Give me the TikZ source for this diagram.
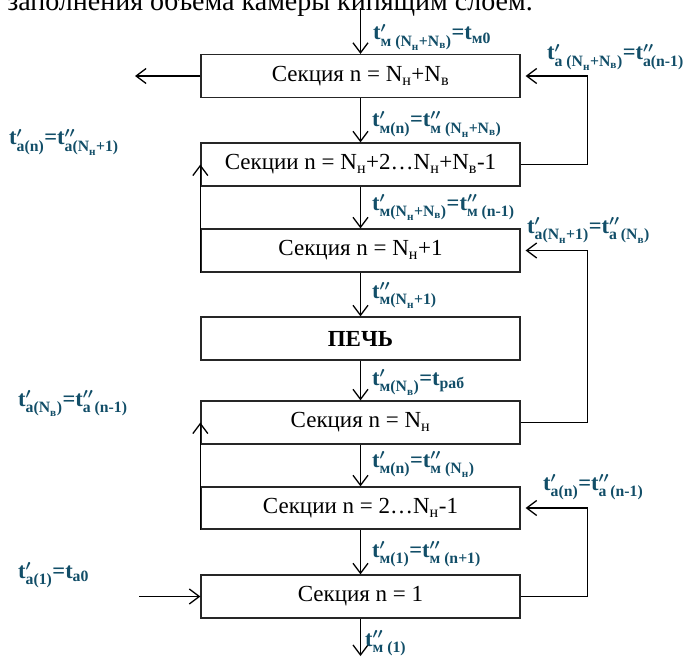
\documentclass[tikz,border=0pt]{standalone}
\usepackage{fontspec}
\usepackage{amsmath}
\setmainfont{Liberation Serif}
\usetikzlibrary{arrows.meta}
\definecolor{labc}{RGB}{18,78,104}
\begin{document}
\begin{tikzpicture}[x=1pt,y=-1pt,
  box/.style={draw=black!85, line width=1.3pt, minimum width=319pt, minimum height=43pt, inner sep=0pt, font=\fontsize{23}{27}\selectfont},
  flow/.style={line width=1.3pt, -{Straight Barb[length=10pt,width=15pt,line width=1.3pt]}},
  lab/.style={anchor=base west, inner sep=0pt, text=labc, font=\fontsize{22.5}{24}\selectfont\bfseries\boldmath}]
\useasboundingbox (0,0) rectangle (696,658);
\begin{scope}
\clip (0,0) rectangle (696,658);
\node[anchor=base east, font=\fontsize{28}{30}\selectfont, inner sep=0pt] (cap) at (533,11) {заполнения объема камеры кипящим слоем.};
\end{scope}
% boxes
\node[box] (b1) at (360.5,76) {Секция n = N\textsubscript{н}+N\textsubscript{в}};
\node[box] (b2) at (360.5,164.5) {Секции n = N\textsubscript{н}+2…N\textsubscript{н}+N\textsubscript{в}-1};
\node[box] (b3) at (360.5,250.5) {Секция n = N\textsubscript{н}+1};
\node[box, font=\fontsize{23}{27}\selectfont\bfseries] (b4) at (360.5,338.5) {ПЕЧЬ};
\node[box] (b5) at (360.5,422.5) {Секция n = N\textsubscript{н}};
\node[box, minimum height=42pt] (b6) at (360.5,508) {Секции n = 2…N\textsubscript{н}-1};
\node[box] (b7) at (360.5,596.5) {Секция n = 1};
% free ends
\coordinate (top) at (360.5,8);
\coordinate (out1) at (135,76);
\coordinate (in1) at (139,596.5);
\coordinate (bot) at (360.5,656);
% main flow
\draw[flow] (top) -- (b1.north);
\draw[flow] (b1.south) -- (b2.north);
\draw[flow] (b2.south) -- (b3.north);
\draw[flow] (b3.south) -- (b4.north);
\draw[flow] (b4.south) -- (b5.north);
\draw[flow] (b5.south) -- (b6.north);
\draw[flow] (b6.south) -- (b7.north);
\draw[flow] (b7.south) -- (bot);
\draw[flow] (b1.west) -- (out1);
\draw[flow] (in1) -- (b7.west);
% right loops
\draw[flow, shorten >=5pt] (b2.east) -- ++(66.5,0) |- (b1.east);
\draw[flow, shorten >=5pt] (b5.east) -- ++(66.5,0) |- (b3.east);
\draw[flow, shorten >=5pt] (b7.east) -- ++(66.5,0) |- (b6.east);
% left loops
\draw[flow] (b3.south west) -- (b2.west);
\draw[flow] (b6.south west) -- (b5.west);
% labels
\node[lab] (l1) at (373,40) {$\text{t}'_{\text{м (N}_\text{н}\text{+N}_\text{в}\text{)}}\text{=t}_{\text{м0}}$};
\node[lab] (l2) at (547,60) {$\text{t}'_{\text{а (N}_\text{н}\text{+N}_\text{в}\text{)}}\text{=t}''_{\text{а(n-1)}}$};
\node[lab] (l3) at (9,145) {$\text{t}'_{\text{а(n)}}\text{=t}''_{\text{а(N}_\text{н}\text{+1)}}$};
\node[lab] (l4) at (372,127) {$\text{t}'_{\text{м(n)}}\text{=t}''_{\text{м (N}_\text{н}\text{+N}_\text{в}\text{)}}$};
\node[lab] (l5) at (372,210) {$\text{t}'_{\text{м(N}_\text{н}\text{+N}_\text{в}\text{)}}\text{=t}''_{\text{м (n-1)}}$};
\node[lab] (l6) at (527,233) {$\text{t}'_{\text{а(N}_\text{н}\text{+1)}}\text{=t}''_{\text{а (N}_\text{в}\text{)}}$};
\node[lab] (l7) at (372,298) {$\text{t}''_{\text{м(N}_\text{н}\text{+1)}}$};
\node[lab] (l8) at (372,385) {$\text{t}'_{\text{м(N}_\text{в}\text{)}}\text{=t}_{\text{раб}}$};
\node[lab] (l9) at (18,406) {$\text{t}'_{\text{а(N}_\text{в}\text{)}}\text{=t}''_{\text{а (n-1)}}$};
\node[lab] (l10) at (372,467) {$\text{t}'_{\text{м(n)}}\text{=t}''_{\text{м (N}_\text{н}\text{)}}$};
\node[lab] (l11) at (543,490) {$\text{t}'_{\text{а(n)}}\text{=t}''_{\text{а (n-1)}}$};
\node[lab] (l12) at (372,557) {$\text{t}'_{\text{м(1)}}\text{=t}''_{\text{м (n+1)}}$};
\node[lab] (l13) at (365,646) {$\text{t}''_{\text{м (1)}}$};
\node[lab] (l14) at (18,578) {$\text{t}'_{\text{а(1)}}\text{=t}_{\text{а0}}$};
\end{tikzpicture}
\end{document}
